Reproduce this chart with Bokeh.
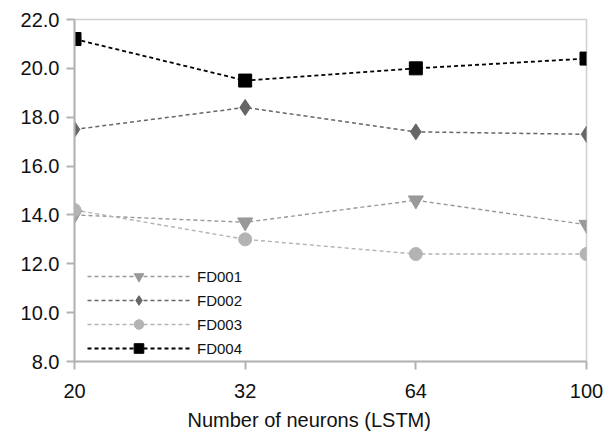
from bokeh.plotting import figure
from bokeh.models import Range1d, FixedTicker, NumeralTickFormatter, Legend, LegendItem, Title
from bokeh.embed import file_html
from bokeh.resources import INLINE

neurons = ["20", "32", "64", "100"]
fd001 = [14.0, 13.7, 14.6, 13.6]
fd002 = [17.5, 18.4, 17.4, 17.3]
fd003 = [14.2, 13.0, 12.4, 12.4]
fd004 = [21.2, 19.5, 20.0, 20.4]
y_ticks = [8, 10, 12, 14, 16, 18, 20, 22]
x_title = "Number of neurons (LSTM)"

xs = list(range(len(neurons)))

p = figure(width=616, height=438, output_backend="svg", toolbar_location=None,
           x_range=Range1d(0, len(neurons) - 1), y_range=Range1d(8, 22),
           min_border_left=74, min_border_right=30, min_border_top=19, min_border_bottom=77)
p.background_fill_color = "white"
p.border_fill_color = "white"
p.outline_line_color = "#d0d0d0"
p.outline_line_width = 1.5
p.xgrid.visible = False
p.ygrid.visible = False

FONT = "Liberation Sans"
for ax in (p.xaxis, p.yaxis):
    ax.axis_line_color = "#b3b3b3"
    ax.axis_line_width = 2
    ax.major_tick_line_color = "#b3b3b3"
    ax.major_tick_line_width = 2
    ax.major_tick_out = 8
    ax.major_tick_in = 0
    ax.minor_tick_line_color = None
    ax.major_label_text_font = FONT
    ax.major_label_text_font_size = "20px"
    ax.major_label_text_color = "#111111"

p.xaxis.ticker = FixedTicker(ticks=xs)
p.xaxis.major_label_overrides = {i: n for i, n in enumerate(neurons)}
p.xaxis.major_label_standoff = 14

p.yaxis.ticker = FixedTicker(ticks=y_ticks)
p.yaxis.formatter = NumeralTickFormatter(format="0.0")
p.yaxis.major_label_standoff = 7

xt = Title(text=x_title, align="left", offset=113, standoff=13,
           text_font=FONT, text_font_size="20px", text_font_style="normal",
           text_color="#111111")
p.add_layout(xt, "below")

series = [
    ("FD001", fd001, "#999999", "inverted_triangle", 15, 1.4),
    ("FD002", fd002, "#666666", "diamond", 16, 1.5),
    ("FD003", fd003, "#b3b3b3", "circle", 13, 1.4),
    ("FD004", fd004, "#000000", "square", 13, 1.8),
]

items = []
for name, ys, color, marker, size, lw in series:
    l = p.line(xs, ys, line_color=color, line_width=lw, line_dash="4 3")
    s = p.scatter(xs, ys, marker=marker, size=size, fill_color=color, line_color=color)
    items.append(LegendItem(label=name, renderers=[l, s]))

legend = Legend(items=items, location=(13, 1))
legend.background_fill_alpha = 0
legend.border_line_color = None
legend.padding = 0
legend.margin = 0
legend.spacing = 0
legend.label_height = 24
legend.glyph_height = 24
legend.glyph_width = 103
legend.label_standoff = 7
legend.label_text_font = FONT
legend.label_text_font_size = "15px"
legend.label_text_color = "#111111"
p.add_layout(legend, "center")

open("out.html", "w").write(file_html(p, INLINE))
